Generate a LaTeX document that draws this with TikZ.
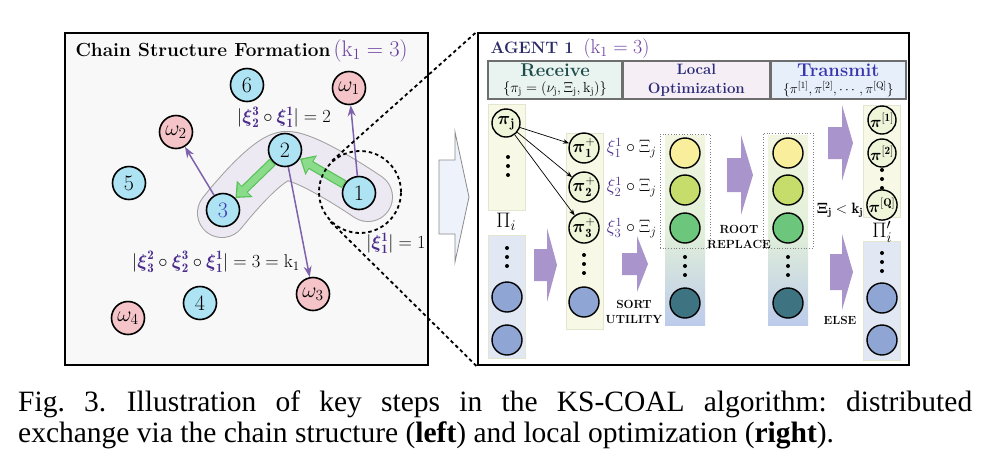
\RequirePackage{fix-cm}
\documentclass[tikz,border=0pt]{standalone}
\usepackage{amsmath}
\usepackage{fontspec}
\newfontfamily\capfont{Liberation Serif}
\usetikzlibrary{positioning, arrows.meta, calc}
\definecolor{panelgray}{HTML}{F8F8F8}
\definecolor{agentblue}{HTML}{AEE3F4}
\definecolor{taskpink}{HTML}{F4C4C8}
\definecolor{threeblue}{HTML}{3C3CB4}
\definecolor{assignpurple}{HTML}{7E62AC}
\definecolor{passgreen}{HTML}{8ADB8A}
\definecolor{passedge}{HTML}{5BC25B}
\definecolor{blobfill}{HTML}{EDE9F3}
\definecolor{blobedge}{HTML}{A0A0A0}
\definecolor{xipurple}{HTML}{4B2C8C}
\definecolor{kpurple}{HTML}{6B3FA0}
\definecolor{hollowfill}{HTML}{EEF2FA}
\definecolor{hollowedge}{HTML}{8A8A8A}
\definecolor{blockfill}{HTML}{A995CB}
\definecolor{agentnavy}{HTML}{2A2A66}
\definecolor{headgray}{HTML}{6E6E6E}
\definecolor{recvfill}{HTML}{E9F3EF}
\definecolor{recvtext}{HTML}{1F4D4D}
\definecolor{optfill}{HTML}{F6EEF5}
\definecolor{opttext}{HTML}{2B2B78}
\definecolor{sendfill}{HTML}{E6EFFA}
\definecolor{sendtext}{HTML}{3A35AE}
\definecolor{recvbg}{HTML}{F7F8E5}
\definecolor{boxedge}{HTML}{E3E6CF}
\definecolor{poolbg}{HTML}{E2E8F3}
\definecolor{pifill}{HTML}{EEF5D9}
\definecolor{poolblue}{HTML}{8FA5D3}
\definecolor{gradtop}{HTML}{F2F5E0}
\definecolor{gradmid}{HTML}{E2F0D9}
\definecolor{gradbot}{HTML}{BCCBEA}
\definecolor{ylw}{HTML}{F8EE9C}
\definecolor{lgrn}{HTML}{C6DC6B}
\definecolor{grn}{HTML}{6CC67B}
\definecolor{teal}{HTML}{3E7481}
\newcommand{\Xib}[2]{\textcolor{xipurple}{\boldsymbol{\xi}^{\mathbf{#1}}_{\mathbf{#2}}}}
\newcommand{\Xil}[2]{\textcolor{xipurple}{\xi^{#1}_{#2}}}
\newcommand{\BlockArrow}[7][blockfill]{\fill[#1] (#2,#5-#6) -- (#3,#5-#6) -- (#3,#5-#7) -- (#4,#5) -- (#3,#5+#7) -- (#3,#5+#6) -- (#2,#5+#6) -- cycle;}
\tikzset{
    vdots/.pic = {
    \fill (0,-9) circle (2pt);
    \fill (0,0) circle (2pt);
    \fill (0,9) circle (2pt);
    },
    agent/.style={circle, draw, line width=1.6pt, fill=agentblue, minimum size=33pt, inner sep=0pt, font=\fontsize{22}{22}\selectfont},
    task/.style={agent, fill=taskpink},
    slot/.style={circle, draw, line width=1.4pt, minimum size=30pt, inner sep=0pt},
    pinode/.style={slot, fill=pifill, minimum size=28pt, font=\fontsize{18}{18}\selectfont},
    colbox/.style={draw=boxedge, line width=0.6pt, minimum width=37pt, inner sep=0pt},
    dotbox/.style={draw=gray, dotted, line width=0.7pt, minimum width=50pt, inner sep=0pt},
    panel/.style={draw, line width=2.5pt, inner sep=0pt},
    headcell/.style={draw=headgray, line width=1.4pt, minimum height=38pt, inner sep=0pt, align=center},
    assign/.style={draw=assignpurple, line width=1.5pt, -{Stealth[length=11pt,width=8pt]}},
    pass/.style={draw=passedge, line width=9pt, -{Triangle[length=13pt,width=22pt]}},
    passfill/.style={draw=passgreen, line width=6.5pt, -{Triangle[length=10pt,width=17pt]}, shorten >=2pt, shorten <=1pt},
    link/.style={line width=0.7pt, -{Stealth[length=6pt,width=4.5pt]}},
    zoomline/.style={line width=1.8pt, dash pattern=on 3.5pt off 3pt},
    mathlabel/.style={font=\fontsize{18.5}{18.5}\selectfont, inner sep=0pt},
    xilabel/.style={font=\fontsize{18}{18}\selectfont, inner sep=0pt, anchor=west},
    steplabel/.style={font=\bfseries\fontsize{11.8}{15.5}\selectfont, align=center, inner sep=0pt},
}

\begin{document}
\begin{tikzpicture}[x=1pt, y=-1pt]
    \useasboundingbox (0,0) rectangle (991,467);

    % left: chain structure
    \node[panel, fill=panelgray, minimum width=363pt, minimum height=332pt] (chainbox) at (246.5,199) {};
    \node[anchor=base west, font=\bfseries\fontsize{19}{20}\selectfont] (chaintitle) at (72,56) {Chain Structure Formation\,\textcolor{kpurple}{\mdseries\fontsize{22.5}{22}\selectfont$(\mathrm{k}_1=3)$}};

    \draw[line width=50pt, blobedge, line cap=round, line join=round] plot[smooth] coordinates {(222,213) (285,156) (368,197)};
    \draw[line width=48pt, blobfill, line cap=round, line join=round] plot[smooth] coordinates {(222,213) (285,156) (368,197)};

    \node[agent] (a6) at (247,85) {6};
    \node[task] (w1) at (349,88) {$\omega_1$};
    \node[task] (w2) at (176,132) {$\omega_2$};
    \node[agent] (a5) at (129,183) {5};
    \node[agent] (a2) at (285,150) {2};
    \node[agent] (a1) at (359,193) {1};
    \node[agent, text=threeblue] (a3) at (223,210) {3};
    \node[task] (w3) at (313,294) {$\omega_3$};
    \node[agent] (a4) at (200,303) {4};
    \node[task] (w4) at (128,318) {$\omega_4$};

    \draw[pass] (a1) -- (a2);
    \draw[passfill] (a1) -- (a2);
    \draw[pass] (a2) -- (a3);
    \draw[passfill] (a2) -- (a3);
    \draw[assign] (a1) -- (w1);
    \draw[assign] (a3) -- (w2);
    \draw[assign] (a2) -- (w3);

    \node[circle, draw, zoomline, minimum size=82pt] (focus) at (360,192) {};

    \node[mathlabel] (len2) at (284,117) {$|\Xib32\circ\Xib11|=2$};
    \node[mathlabel] (len1) at (396,243) {$|\Xib11|=1$};
    \node[mathlabel] (len3) at (216,262) {$|\Xib23\circ\Xib32\circ\Xib11|=3=\mathrm{k}_1$};

    \BlockArrow[draw=hollowedge, fill=hollowfill, line width=0.8pt]{439}{455}{469}{197}{37}{65}

    % right: agent 1
    \node[panel, fill=white, minimum width=431pt, minimum height=332pt] (agentbox) at (693.5,199) {};
    \draw[zoomline] (tangent cs:node=focus,point={(agentbox.north west)},solution=1) -- (agentbox.north west);
    \draw[zoomline] (tangent cs:node=focus,point={(agentbox.south west)},solution=2) -- (agentbox.south west);

    \node[anchor=base west, font=\bfseries\fontsize{16.5}{18}\selectfont, text=agentnavy] (agenttitle) at (487,53) {AGENT 1\hspace{0.6em}\textcolor{kpurple}{\mdseries\fontsize{20}{20}\selectfont$(\mathrm{k}_1=3)$}};

    \node[headcell, fill=recvfill, minimum width=134pt] (hrecv) at (555,80) {{\color{recvtext}\bfseries\fontsize{18.5}{17}\selectfont Receive}\\[4pt]{\fontsize{14.5}{14}\selectfont$\{\pi_\mathrm{j}=(\nu_\mathrm{j},\Xi_\mathrm{j},\mathrm{k}_\mathrm{j})\}$}};
    \node[headcell, fill=optfill, minimum width=146pt, right=0pt of hrecv, text=opttext, font=\bfseries\fontsize{15}{19}\selectfont] (hopt) {Local\\Optimization};
    \node[headcell, fill=sendfill, minimum width=135pt, right=0pt of hopt] (hsend) {{\color{sendtext}\bfseries\fontsize{18.5}{17}\selectfont Transmit}\\[4pt]{\fontsize{13.5}{14}\selectfont$\{\pi^{[1]},\pi^{[2]},\cdots,\pi^{[\mathrm{Q}]}\}$}};

    \node[colbox, fill=recvbg, minimum height=106pt] (recvcol) at (506.5,157) {};
    \node[colbox, fill=poolbg, minimum height=123pt] (poolcol) at (506.5,296.5) {};
    \node[colbox, fill=recvbg, minimum height=196pt] (candcol) at (584.5,231) {};
    \node[colbox, draw=none, top color=gradtop, bottom color=gradbot, middle color=gradmid, minimum width=40pt, minimum height=190pt] (sortcol) at (685,230) {};
    \node[colbox, draw=none, top color=gradtop, bottom color=gradbot, middle color=gradmid, minimum width=40pt, minimum height=190pt] (rootcol) at (788,230) {};
    \node[colbox, fill=recvbg, minimum height=112pt] (sendcol) at (881.5,161) {};
    \node[colbox, fill=poolbg, minimum height=119pt] (newcol) at (881.5,300.5) {};
    \node[dotbox, minimum height=114pt] (best) at (685,191) {};
    \node[dotbox, minimum height=115pt] (kept) at (788,190.5) {};

    \node[pinode] (pj) at (506,123) {$\boldsymbol{\pi}_{\mathbf{j}}$};
    \pic at (508,166) {vdots};
    \node[font=\fontsize{21}{21}\selectfont] (pii) at (506,222) {$\Pi_i$};
    \pic at (507,257) {vdots};
    \node[slot, fill=poolblue] (p1) at (507,297) {};
    \node[slot, fill=poolblue] (p2) at (507,340) {};

    \node[pinode] (c1) at (584,148) {$\boldsymbol{\pi}^{+}_{\mathbf{1}}$};
    \node[pinode] (c2) at (584,187) {$\boldsymbol{\pi}^{+}_{\mathbf{2}}$};
    \node[pinode] (c3) at (584,228) {$\boldsymbol{\pi}^{+}_{\mathbf{3}}$};
    \pic at (584,264) {vdots};
    \node[slot, fill=poolblue] (c4) at (584,302) {};
    \draw[link] (pj) -- (c1);
    \draw[link] (pj) -- (c2);
    \draw[link] (pj) -- (c3);
    \node[xilabel, right=7pt of c1] (x1) {$\Xil11\circ\Xi_j$};
    \node[xilabel, right=7pt of c2] (x2) {$\Xil12\circ\Xi_j$};
    \node[xilabel, right=7pt of c3] (x3) {$\Xil13\circ\Xi_j$};

    \node[slot, fill=ylw] (s1) at (685,153) {};
    \node[slot, fill=lgrn] (s2) at (685,190) {};
    \node[slot, fill=grn] (s3) at (685,228) {};
    \pic at (685,266) {vdots};
    \node[slot, fill=teal] (s4) at (685,303) {};

    \node[slot, fill=ylw] (r1) at (788,153) {};
    \node[slot, fill=lgrn] (r2) at (788,190) {};
    \node[slot, fill=grn] (r3) at (788,228) {};
    \pic at (788,266) {vdots};
    \node[slot, fill=teal] (r4) at (788,303) {};

    \node[pinode, font=\fontsize{16}{16}\selectfont] (t1) at (882,120) {$\boldsymbol{\pi}^{[\mathbf{1}]}$};
    \node[pinode, font=\fontsize{16}{16}\selectfont] (t2) at (882,153) {$\boldsymbol{\pi}^{[\mathbf{2}]}$};
    \pic at (882,179) {vdots};
    \node[pinode, font=\fontsize{16}{16}\selectfont] (tq) at (882,205) {$\boldsymbol{\pi}^{[\mathbf{Q}]}$};
    \node[font=\fontsize{21}{21}\selectfont] (pinew) at (882,232) {$\Pi'_i$};
    \pic at (882,262) {vdots};
    \node[slot, fill=poolblue] (n1) at (882,298) {};
    \node[slot, fill=poolblue] (n2) at (882,340) {};

    \BlockArrow{534}{547}{557}{265}{16}{37}
    \BlockArrow{622}{637}{648}{264}{11}{28}
    \BlockArrow{727}{741}{753}{175}{17}{40}
    \BlockArrow{828}{842}{853}{143}{16}{38}
    \BlockArrow{830}{842}{853}{272}{18}{38}

    \node[steplabel] (sortlab) at (634,312) {SORT\\UTILITY};
    \node[steplabel] (rootlab) at (739,237) {ROOT\\REPLACE};
    \node[mathlabel, font=\fontsize{15}{15}\selectfont] (cond) at (840,210) {$\boldsymbol{\Xi}_{\mathbf{j}}<\mathbf{k}_{\mathbf{j}}$};
    \node[steplabel] (elselab) at (840,320) {ELSE};

    \node[anchor=north west, text width=954pt, align=justify, inner sep=0pt, font=\capfont\fontsize{29.5}{31}\selectfont] (caption) at (18,391) {\frenchspacing Fig.~3.\hspace{0.7em}Illustration of key steps in the KS-COAL algorithm: distributed\linebreak exchange via the chain structure (\textbf{left}) and local optimization (\textbf{right}).};
  \end{tikzpicture}
\end{document}
